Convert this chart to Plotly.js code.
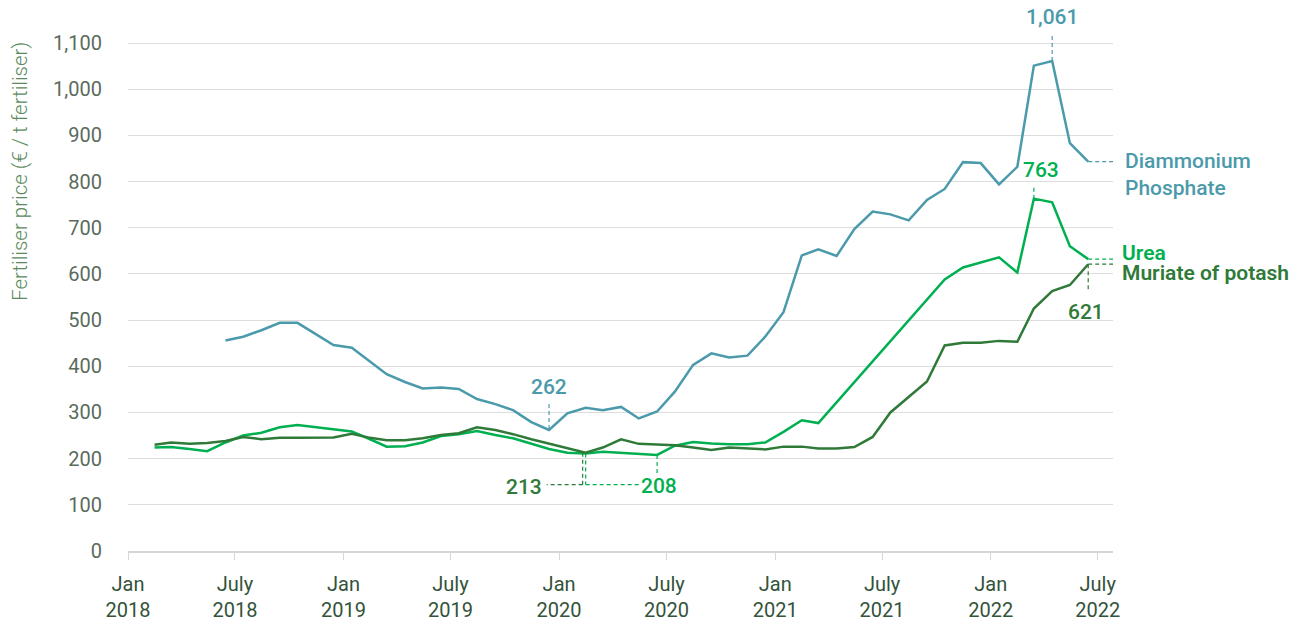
<!DOCTYPE html>
<html>
<head>
<meta charset="utf-8">
<script src="https://cdn.plot.ly/plotly-3.0.1.min.js"></script>
<style>
  html, body { margin: 0; padding: 0; background: #ffffff; }
  #chart { width: 1304px; height: 628px; }
</style>
</head>
<body>
<div id="chart"></div>
<script>
// Monthly observations, Jan 2018 (index 0) .. Jun 2022 (index 53), plotted mid-month
const startYear = 2018;
const monthCount = 54;
const months = [];
for (let i = 0; i < monthCount; i++) {
  const y = startYear + Math.floor(i / 12);
  const m = (i % 12) + 1;
  months.push(y + '-' + String(m).padStart(2, '0') + '-15');
}

const seriesNames = ['Diammonium Phosphate', 'Urea', 'Muriate of potash'];

const dap = [null, null, null, null, null,
  456, 464, 478, 494, 494,
  469, 446, 440, 411, 383, 366, 352, 354, 351, 329,
  318, 305, 279, 262, 298, 310, 305, 312, 287, 302,
  345, 403, 428, 419, 423, 464, 517, 640, 653, 639,
  697, 735, 729, 716, 760, 784, 842, 840, 794, 832,
  1051, 1061, 883, 843];

const urea = [null,
  224, 225, 221, 216, 235, 250, 256, 268, 273, 268,
  264, 259, 242, 226, 227, 235, 249, 253, 260, 251,
  244, 232, 221, 213, 211, 215, 213, 211, 208, 228,
  236, 233, 231, 231, 235, 258, 283, 277, null, null,
  null, null, null, null, 588, 614, 625, 636, 603, 763,
  755, 660, 632];

const potash = [null,
  230, 235, 232, 234, 238, 247, 242, 245, 245, 245,
  246, 254, 245, 240, 240, 244, 251, 255, 268, 262,
  253, 242, 232, 222, 213, 224, 242, 232, 230, 229,
  224, 219, 224, 222, 220, 226, 226, 222, 222, 225,
  247, 300, 334, 367, 445, 451, 451, 455, 453, 525,
  563, 576, 621];

const tickVals = ['2018-01-01','2018-07-01','2019-01-01','2019-07-01','2020-01-01',
                  '2020-07-01','2021-01-01','2021-07-01','2022-01-01','2022-07-01'];
const tickText = ['Jan<br>2018','July<br>2018','Jan<br>2019','July<br>2019','Jan<br>2020',
                  'July<br>2020','Jan<br>2021','July<br>2021','Jan<br>2022','July<br>2022'];
const yTicks = [0,100,200,300,400,500,600,700,800,900,1000,1100];

// Indices of labelled observations
const iDapLow = 23;     // Dec 2019
const iPotLow = 25;     // Feb 2020
const iUreaLow = 29;    // Jun 2020
const iLast = monthCount - 1;
const iDapPeak = dap.indexOf(Math.max(...dap.filter(v => v !== null)));
const iUreaPeak = urea.indexOf(Math.max(...urea.filter(v => v !== null)));

const C_DAP = '#4b9aab';
const C_UREA = '#00b050';
const C_POT = '#2f7a38';
const FONT = 'Roboto, "Open Sans", sans-serif';
const LABEL_SIZE = 21;

const fmt = v => v.toLocaleString('en-US');

const traces = [
  { name: seriesNames[0], x: months, y: dap, color: C_DAP },
  { name: seriesNames[1], x: months, y: urea, color: C_UREA },
  { name: seriesNames[2], x: months, y: potash, color: C_POT }
].map(s => ({
  type: 'scatter', mode: 'lines', name: s.name, x: s.x, y: s.y,
  connectgaps: true, hoverinfo: 'skip',
  line: { color: s.color, width: 2.5 }
}));

function leader(color, idx, val, x0, y0, x1, y1) {
  return {
    type: 'line', xref: 'x', yref: 'y',
    xsizemode: 'pixel', ysizemode: 'pixel',
    xanchor: months[idx], yanchor: val,
    x0: x0, x1: x1, y0: y0, y1: y1,
    line: { color: color, width: 1.2, dash: '4px,3px' },
    layer: 'above'
  };
}

const shapes = [
  leader(C_DAP, iDapPeak, dap[iDapPeak], 0, 0, 0, 26),
  leader(C_UREA, iUreaPeak, urea[iUreaPeak], 0, 0, 0, 12),
  leader(C_DAP, iDapLow, dap[iDapLow], 0, 1, 0, 28),
  leader(C_POT, iPotLow, potash[iPotLow], -3, 0, -3, -32),
  leader(C_POT, iPotLow, potash[iPotLow], -3, -32, -39, -32),
  leader(C_UREA, iPotLow, urea[iPotLow], 0, 0, 0, -31),
  leader(C_UREA, iPotLow, urea[iPotLow], 0, -31, 53, -31),
  leader(C_UREA, iUreaLow, urea[iUreaLow], 0, 0, 0, -20),
  leader(C_POT, iLast, potash[iLast], 0, 0, 0, -28),
  leader(C_POT, iLast, potash[iLast], 0, 0, 30, 0),
  leader(C_UREA, iLast, urea[iLast], 0, 0, 30, 0),
  leader(C_DAP, iLast, dap[iLast], 0, 0, 28, 0)
];

function label(text, idx, val, color, xs, ys, opts) {
  return Object.assign({
    xref: 'x', yref: 'y', x: months[idx], y: val, text: text,
    showarrow: false, xanchor: 'center', yanchor: 'middle',
    xshift: xs, yshift: ys,
    font: { family: FONT, size: LABEL_SIZE, color: color, weight: 500 }
  }, opts || {});
}

const annotations = [
  label(fmt(dap[iDapPeak]), iDapPeak, dap[iDapPeak], C_DAP, 0, 44),
  label(fmt(urea[iUreaPeak]), iUreaPeak, urea[iUreaPeak], C_UREA, 7, 29),
  label(fmt(dap[iDapLow]), iDapLow, dap[iDapLow], C_DAP, 0, 43),
  label(fmt(potash[iPotLow]), iPotLow, potash[iPotLow], C_POT, -62, -34),
  label(fmt(urea[iUreaLow]), iUreaLow, urea[iUreaLow], C_UREA, 2, -31),
  label(fmt(potash[iLast]), iLast, potash[iLast], C_POT, -2, -48),
  label(seriesNames[0].replace(' ', '<br>'), iLast, dap[iLast], C_DAP, 35, -13,
        { xanchor: 'left', align: 'left' }),
  label(seriesNames[1], iLast, urea[iLast], C_UREA, 32, 6,
        { xanchor: 'left', align: 'left', font: { family: FONT, size: LABEL_SIZE, color: C_UREA, weight: 600 } }),
  label(seriesNames[2], iLast, potash[iLast], C_POT, 32, -9,
        { xanchor: 'left', align: 'left', font: { family: FONT, size: LABEL_SIZE, color: C_POT, weight: 600 } }),
  {
    xref: 'paper', yref: 'paper', x: -0.109, y: 0.706,
    text: 'Fertiliser price (€ / t fertiliser)', showarrow: false, textangle: -90,
    xanchor: 'center', yanchor: 'middle',
    font: { family: FONT, size: 20.5, color: '#5b8a5e', weight: 300 }
  }
];

const layout = {
  width: 1304, height: 628,
  margin: { l: 128, r: 191, t: 13, b: 77 },
  paper_bgcolor: '#ffffff', plot_bgcolor: '#ffffff',
  showlegend: false,
  font: { family: FONT },
  xaxis: {
    type: 'date', range: ['2018-01-01', '2022-07-27'],
    tickmode: 'array', tickvals: tickVals, ticktext: tickText,
    ticks: 'outside', ticklen: 7, tickwidth: 1, tickcolor: '#d6d6d6',
    showline: true, linecolor: '#d6d6d6', linewidth: 2,
    showgrid: false, zeroline: false,
    ticklabelstandoff: 7,
    tickfont: { family: FONT, size: 20, color: '#33533a' },
    fixedrange: true
  },
  yaxis: {
    range: [0, 1165],
    tickmode: 'array', tickvals: yTicks, tickformat: ',',
    showgrid: true, gridcolor: '#dddddd', gridwidth: 1,
    zeroline: false, showline: false, ticks: '',
    ticklabelstandoff: 25,
    tickfont: { family: FONT, size: 20, color: '#5a6b5c' },
    fixedrange: true
  },
  shapes: shapes,
  annotations: annotations
};

Plotly.newPlot('chart', traces, layout, { displayModeBar: false, staticPlot: true });
</script>
</body>
</html>
